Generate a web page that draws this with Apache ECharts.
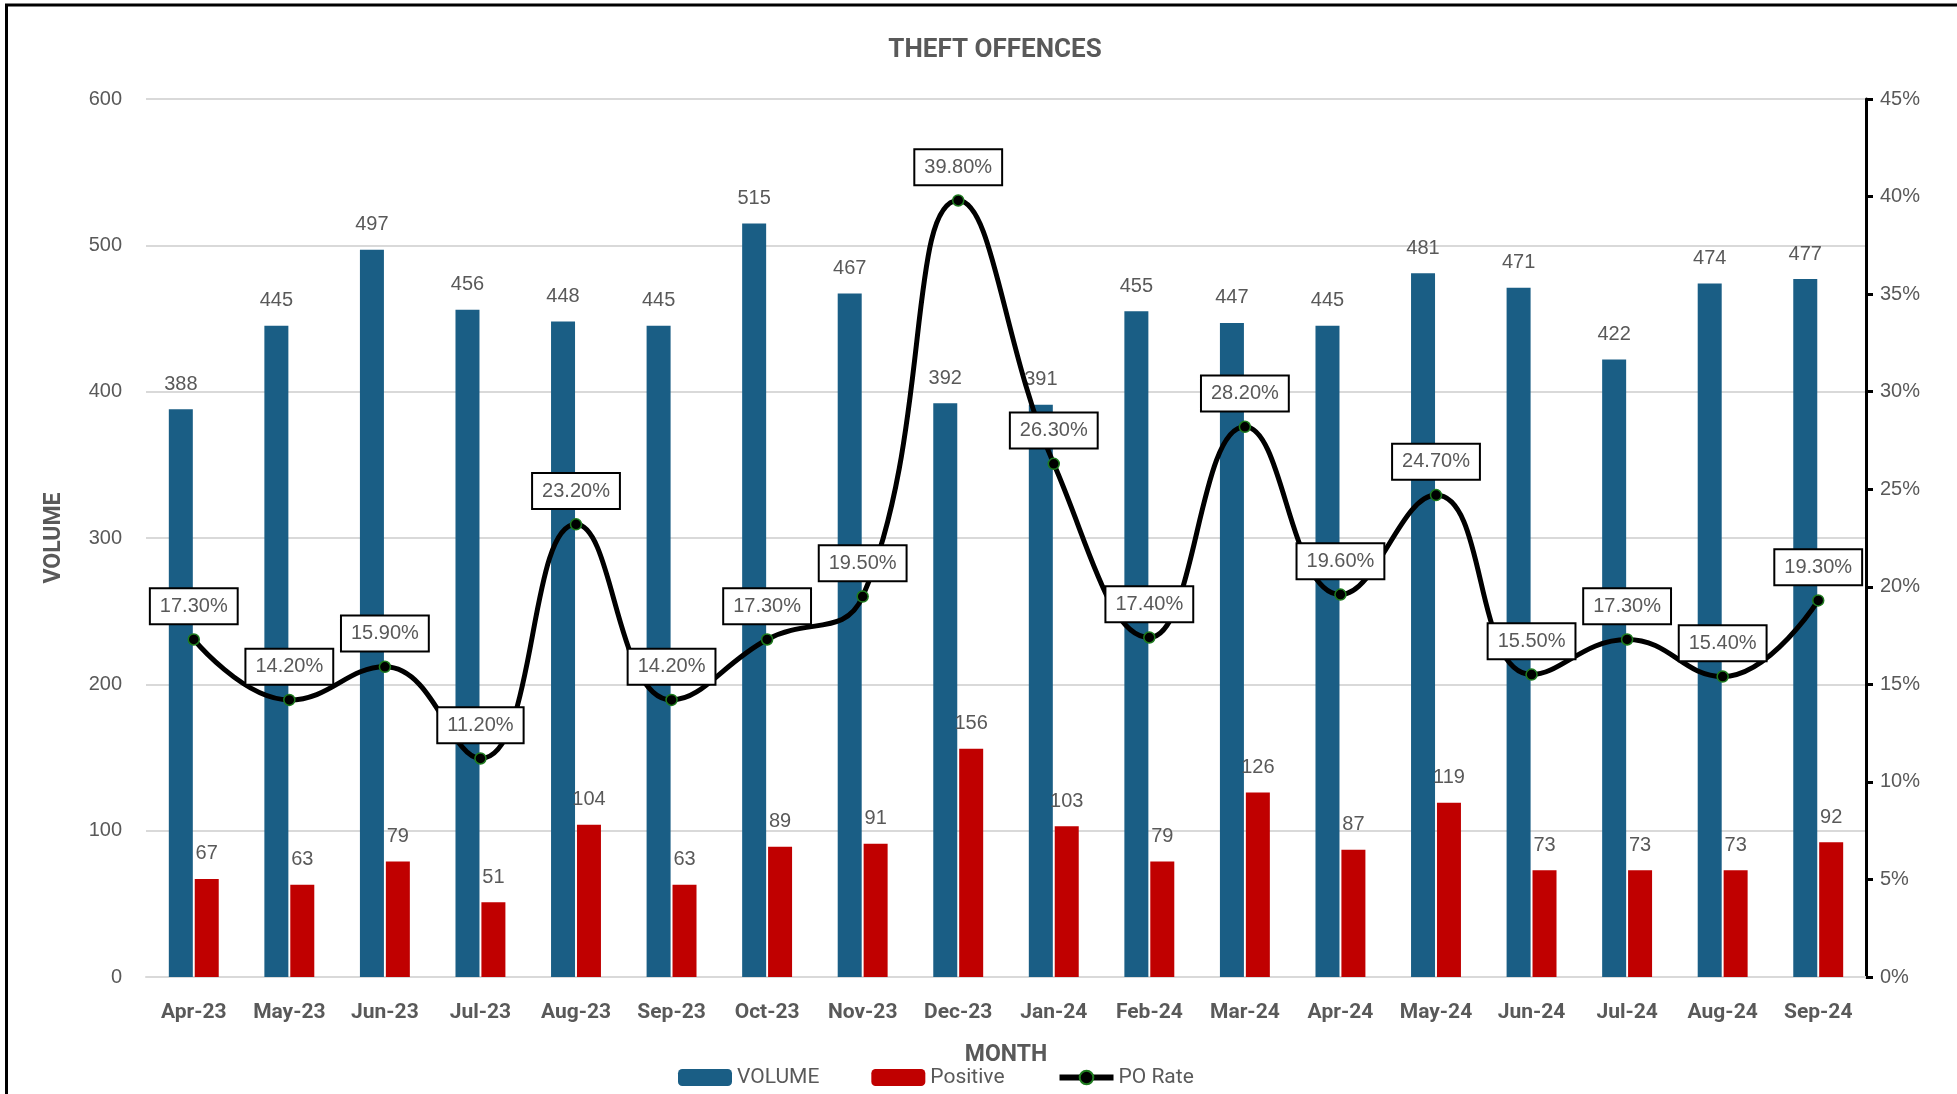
<!DOCTYPE html>
<html>
<head>
<meta charset="utf-8">
<title>Theft Offences</title>
<script src="https://cdn.jsdelivr.net/npm/echarts@6/dist/echarts.min.js"></script>
<style>
  html, body { margin: 0; padding: 0; background: #fff; }
  #chart { width: 1957px; height: 1094px; }
</style>
</head>
<body>
<div id="chart"></div>
<script>
  // months on the x axis
  var months = ['Apr-23', 'May-23', 'Jun-23', 'Jul-23', 'Aug-23', 'Sep-23', 'Oct-23', 'Nov-23', 'Dec-23',
    'Jan-24', 'Feb-24', 'Mar-24', 'Apr-24', 'May-24', 'Jun-24', 'Jul-24', 'Aug-24', 'Sep-24']
  var volume = [388, 445, 497, 456, 448, 445, 515, 467, 392, 391, 455, 447, 445, 481, 471, 422, 474, 477]
  var positive = [67, 63, 79, 51, 104, 63, 89, 91, 156, 103, 79, 126, 87, 119, 73, 73, 73, 92]
  var poRate = [17.3, 14.2, 15.9, 11.2, 23.2, 14.2, 17.3, 19.5, 39.8, 26.3, 17.4, 28.2, 19.6, 24.7, 15.5, 17.3, 15.4, 19.3]

  var grey = '#595959'
  var narrow = '"Roboto", "Liberation Sans", sans-serif'
  var plain = '"Liberation Sans", Arial, sans-serif'

  var chart = echarts.init(document.getElementById('chart'))

  var option = {
    animation: false,
    backgroundColor: '#fff',
    title: {
      text: 'THEFT OFFENCES',
      left: 990,
      textAlign: 'center',
      top: 32,
      textStyle: { fontFamily: narrow, fontSize: 26, fontWeight: 'bold', color: grey }
    },
    graphic: [{ // outer frame
      type: 'rect',
      shape: { x: 6.5, y: 5, width: 2100, height: 2100 },
      style: { fill: 'none', stroke: '#000', lineWidth: 3 },
      silent: true
    }],
    legend: {
      left: 673,
      top: 1062,
      itemWidth: 54,
      itemHeight: 17,
      itemGap: 52,
      textStyle: { fontFamily: narrow, fontSize: 21, color: grey },
      data: [
        'VOLUME',
        'Positive',
        {
          name: 'PO Rate',
          lineStyle: { color: '#000', width: 6 },
          itemStyle: { color: '#000', borderColor: '#1e7b1e', borderWidth: 2 }
        }
      ]
    },
    grid: {
      left: 146,
      right: 91,
      top: 99,
      bottom: 117
    },
    xAxis: [{
      type: 'category',
      data: months,
      name: 'MONTH',
      nameLocation: 'middle',
      nameGap: 67,
      nameTextStyle: { fontFamily: narrow, fontSize: 23, fontWeight: 'bold', color: grey },
      axisLine: { show: true, lineStyle: { color: '#d9d9d9', width: 2 } },
      axisTick: { show: false },
      axisLabel: { fontFamily: narrow, fontSize: 21, fontWeight: 'bold', color: grey, margin: 25 }
    }],
    yAxis: [
      {
        type: 'value',
        min: 0,
        max: 600,
        interval: 100,
        name: 'VOLUME',
        nameLocation: 'middle',
        nameGap: 80,
        nameTextStyle: { fontFamily: narrow, fontSize: 23, fontWeight: 'bold', color: grey },
        axisLine: { show: false },
        axisTick: { show: false },
        axisLabel: { fontFamily: plain, fontSize: 20, color: grey, margin: 24 },
        splitLine: { lineStyle: { color: '#d9d9d9', width: 2 } }
      },
      {
        type: 'value',
        min: 0,
        max: 45,
        interval: 5,
        position: 'right',
        axisLine: { show: true, lineStyle: { color: '#000', width: 3 } },
        axisTick: { show: true, inside: false, length: 7, lineStyle: { color: '#000', width: 3 } },
        axisLabel: { fontFamily: plain, fontSize: 20, color: grey, margin: 14, formatter: '{value}%' },
        splitLine: { show: false }
      }
    ],
    series: [
      {
        name: 'VOLUME',
        type: 'bar',
        yAxisIndex: 0,
        barWidth: 24,
        barGap: '8%',
        itemStyle: { color: '#1a5e85' },
        label: { show: true, position: 'top', distance: 15, fontFamily: plain, fontSize: 20, color: grey },
        data: volume
      },
      {
        name: 'Positive',
        type: 'bar',
        yAxisIndex: 0,
        barWidth: 24,
        itemStyle: { color: '#c00000' },
        label: { show: true, position: 'top', distance: 15, fontFamily: plain, fontSize: 20, color: grey },
        data: positive
      },
      {
        name: 'PO Rate',
        type: 'line',
        yAxisIndex: 1,
        smooth: 0.45,
        z: 5,
        symbol: 'circle',
        symbolSize: 11,
        lineStyle: { color: '#000', width: 5 },
        itemStyle: { color: '#000', borderColor: '#1e7b1e', borderWidth: 1.5 },
        label: {
          show: true,
          position: 'top',
          distance: 10,
          fontFamily: plain,
          fontSize: 20,
          color: grey,
          backgroundColor: '#fff',
          borderColor: '#000',
          borderWidth: 2,
          padding: [7, 9],
          formatter: function (p) { return p.value.toFixed(2) + '%' }
        },
        data: poRate
      }
    ]
  }

  chart.setOption(option)
</script>
</body>
</html>
